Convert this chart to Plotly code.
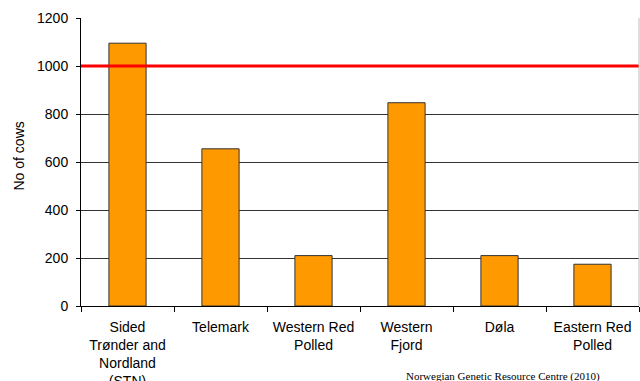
import plotly.graph_objects as go

categories = ["Sided<br>Trønder and<br>Nordland<br>(STN)", "Telemark", "Western Red<br>Polled",
              "Western<br>Fjord", "Døla", "Eastern Red<br>Polled"]
cows = [1095, 655, 210, 847, 210, 174]
threshold = 1000
y_ticks = [0, 200, 400, 600, 800, 1000, 1200]

fig = go.Figure()
fig.add_trace(go.Bar(
    x=categories, y=cows, width=0.4,
    marker=dict(color="#FF9900", line=dict(color="#333333", width=1)),
))

fig.add_shape(type="line", xref="paper", x0=0, x1=1, yref="y", y0=threshold, y1=threshold,
              line=dict(color="#FF0000", width=3), layer="above")
fig.add_shape(type="line", xref="paper", x0=1, x1=1, yref="paper", y0=0, y1=1,
              line=dict(color="#BBBBBB", width=1))

fig.add_annotation(text="No of cows", xref="paper", yref="paper", x=-62.5/558, y=(306-156)/288,
                   textangle=-90, showarrow=False, xanchor="center", yanchor="middle",
                   font=dict(family="Liberation Sans, Arial", size=14, color="#000000"))
fig.add_annotation(text="Norwegian Genetic Resource Centre (2010)", xref="paper", yref="paper",
                   x=(503-81)/558, y=(306-376)/288, showarrow=False, xanchor="center", yanchor="middle",
                   font=dict(family="Liberation Serif, Times New Roman", size=11, color="#000000"))

fig.update_layout(
    width=640, height=381,
    margin=dict(l=81, r=1, t=18, b=75),
    paper_bgcolor="white", plot_bgcolor="white",
    showlegend=False,
    bargap=0.6,
    font=dict(family="Liberation Sans, Arial", size=14, color="#000000"),
)
fig.update_xaxes(
    type="category", showline=True, linecolor="#000000", linewidth=1,
    ticks="outside", tickson="boundaries", ticklen=5, tickcolor="#000000",
    showgrid=False, tickfont=dict(size=14), ticklabelstandoff=8, automargin=False,
)
fig.update_yaxes(
    range=[0, 1200], tickvals=y_ticks, showline=True, linecolor="#000000", linewidth=1,
    ticks="outside", ticklen=4, tickcolor="#000000",
    showgrid=True, gridcolor="#333333", gridwidth=1, zeroline=False,
    tickfont=dict(size=14), ticklabelstandoff=5, ticksuffix="  ", automargin=False,
)

fig.write_html("out.html")
